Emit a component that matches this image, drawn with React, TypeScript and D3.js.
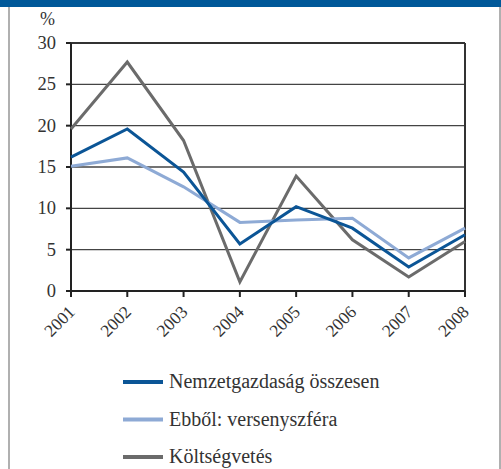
import * as d3 from 'd3';

const years = ['2001', '2002', '2003', '2004', '2005', '2006', '2007', '2008'];
const nemzetgazdasag = [16.2, 19.6, 14.4, 5.7, 10.2, 7.6, 2.9, 6.8];
const versenyszfera = [15.1, 16.1, 12.6, 8.3, 8.6, 8.8, 4.0, 7.6];
const koltsegvetes = [19.6, 27.7, 18.2, 1.1, 13.9, 6.2, 1.7, 6.0];
const yTicks = [0, 5, 10, 15, 20, 25, 30];

const seriesNames = ['Nemzetgazdaság összesen', 'Ebből: versenyszféra', 'Költségvetés'];
const seriesColors = ['#0b5596', '#8eaad5', '#6b6b6b'];

const width = 501;
const height = 469;
const marginLeft = 71;
const plotRight = 465;
const plotTop = 43;
const plotBottom = 291;
const font = 'Liberation Serif';

export default function App() {
    const x = d3.scalePoint(years, [marginLeft, plotRight]);
    const y = d3.scaleLinear([0, 30], [plotBottom, plotTop]);
    const line = d3.line<number>()
        .x((_, i) => x(years[i]) as number)
        .y((d) => y(d));

    const series = [nemzetgazdasag, versenyszfera, koltsegvetes];

    return (
        <svg width={width} height={height} style={{ position: 'absolute', left: 0, top: 0, background: '#fff' }}>
            {/* frame */}
            <rect x={0} y={0} width={width} height={7} fill="#005899" />
            <line x1={9} x2={9} y1={7} y2={height} stroke="#b0b0b0" strokeWidth={2} />
            <line x1={500} x2={500} y1={7} y2={height} stroke="#b0b0b0" strokeWidth={2} />

            {/* grid */}
            {yTicks.filter((t) => t > 0).map((t) => (
                <line key={t} x1={marginLeft} x2={plotRight} y1={y(t)} y2={y(t)}
                    stroke={t === 30 ? '#333' : '#444'} strokeWidth={t === 30 ? 2 : 1.3} />
            ))}
            <line x1={plotRight} x2={plotRight} y1={plotTop} y2={plotBottom} stroke="#333" strokeWidth={2} />

            {/* axes */}
            <line x1={marginLeft} x2={marginLeft} y1={plotTop} y2={plotBottom} stroke="#222" strokeWidth={2} />
            <line x1={marginLeft} x2={plotRight} y1={plotBottom} y2={plotBottom} stroke="#222" strokeWidth={2} />
            {yTicks.map((t) => (
                <g key={t}>
                    <line x1={marginLeft - 5} x2={marginLeft} y1={y(t)} y2={y(t)} stroke="#222" strokeWidth={2} />
                    <text x={56} y={y(t)} dy="0.33em" textAnchor="end" fontSize={18.5} fontFamily={font} fill="#333">{t}</text>
                </g>
            ))}
            <text x={40} y={25} fontSize={18} fontFamily={font} fill="#333">%</text>
            {years.map((yr) => (
                <g key={yr}>
                    <line x1={x(yr)} x2={x(yr)} y1={plotBottom} y2={plotBottom + 6} stroke="#222" strokeWidth={2} />
                    <text transform={`translate(${(x(yr) as number) + 5},${plotBottom + 22}) rotate(-45)`}
                        textAnchor="end" fontSize={17.5} fontFamily={font} fill="#333">{yr}</text>
                </g>
            ))}

            {/* lines */}
            {series.map((s, i) => (
                <path key={i} d={line(s) ?? ''} fill="none" stroke={seriesColors[i]} strokeWidth={3} strokeLinejoin="miter" />
            )).reverse()}

            {/* legend */}
            {seriesNames.map((name, i) => (
                <g key={name} transform={`translate(123,${382 + i * 37.5})`}>
                    <line x1={0} x2={40} stroke={seriesColors[i]} strokeWidth={4} />
                    <text x={46} dy="0.32em" fontSize={20} fontFamily={font} fill="#333">{name}</text>
                </g>
            ))}
        </svg>
    );
}
